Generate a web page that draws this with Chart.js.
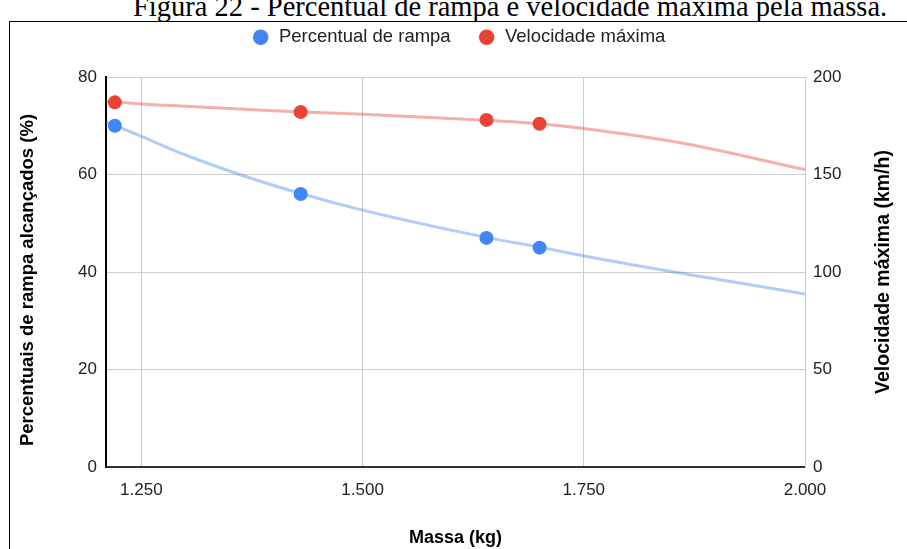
<!DOCTYPE html>
<html>
<head>
<meta charset="utf-8">
<script src="https://cdn.jsdelivr.net/npm/chart.js@4/dist/chart.umd.min.js"></script>
<style>
  html, body { margin: 0; padding: 0; background: #fff; width: 907px; height: 549px; overflow: hidden; position: relative; }
  #title { position: absolute; left: 133px; top: -8px; line-height: 30px; text-align: left;
           font-family: 'Liberation Serif', 'Times New Roman', serif; font-size: 28.5px; color: #000; white-space: nowrap; }
  #frame { position: absolute; left: 9px; top: 21px; width: 1000px; height: 600px; border: 1px solid #000; box-sizing: border-box; }
  #wrap { position: absolute; left: 10px; top: 1px; width: 897px; height: 548px; }
</style>
</head>
<body>
<div id="title">Figura 22 - Percentual de rampa e velocidade máxima pela massa.</div>
<div id="frame"></div>
<div id="wrap"><canvas id="c"></canvas></div>
<script>
// ---- data ----
const massa = [1220, 1430, 1640, 1700];               // kg
const percentualRampa = [70, 56, 47, 45];             // %
const velocidadeMaxima = [187, 182, 178, 176];        // km/h
// trendline samples
const trendMassa = [1210, 1250, 1300, 1361, 1430, 1500, 1640, 1700, 1750, 1865, 2000];
const trendRampa = [70.8, 67.8, 64.0, 60.0, 56.1, 52.7, 47.1, 45.1, 43.3, 39.6, 35.5];
const trendVelocidade = [187.7, 186.2, 185.0, 183.6, 182.1, 180.9, 177.8, 176.0, 173.6, 165.8, 152.5];
const xTicks = [1250, 1500, 1750, 2000];
const seriesNames = ['Percentual de rampa', 'Velocidade máxima'];
const xTitle = 'Massa (kg)';
const yTitle = 'Percentuais de rampa alcançados (%)';
const y1Title = 'Velocidade máxima (km/h)';

const BLUE = '#4285F4', RED = '#EA4335';
const FONT = "'Liberation Sans', Arial, sans-serif";
const fmt = v => String(v).replace(/\B(?=(\d{3})+(?!\d))/g, '.');
const pts = (xs, ys) => xs.map((x, i) => ({x: x, y: ys[i]}));

const sideTitles = {
  id: 'sideTitles',
  afterDraw(chart) {
    const ctx = chart.ctx, a = chart.chartArea, mid = (a.top + a.bottom) / 2;
    const draw = (text, x, y, size) => {
      ctx.save();
      ctx.translate(x, y);
      ctx.rotate(-Math.PI / 2);
      ctx.font = "bold " + size + "px " + FONT;
      ctx.fillStyle = '#000';
      ctx.textAlign = 'center';
      ctx.textBaseline = 'middle';
      ctx.fillText(text, 0, 0);
      ctx.restore();
    };
    draw(yTitle, 18, mid + 8, 18.5);
    draw(y1Title, chart.width - 23, mid, 19.5);
  }
};
const legendHeight = {
  id: 'legendHeight',
  beforeInit(chart) {
    const orig = chart.legend.fit;
    chart.legend.fit = function () { orig.bind(chart.legend)(); this.height = 76; };
  }
};

new Chart(document.getElementById('c'), {
  type: 'scatter',
  data: {
    datasets: [
      { label: seriesNames[0], data: pts(massa, percentualRampa), yAxisID: 'y',
        backgroundColor: BLUE, borderColor: BLUE, pointRadius: 7, pointBorderWidth: 0, showLine: false, order: 0 },
      { label: seriesNames[1], data: pts(massa, velocidadeMaxima), yAxisID: 'y1',
        backgroundColor: RED, borderColor: RED, pointRadius: 7, pointBorderWidth: 0, showLine: false, order: 0 },
      { label: 'trend1', type: 'line', data: pts(trendMassa, trendRampa), yAxisID: 'y',
        borderColor: 'rgba(66,133,244,0.42)', borderWidth: 3, pointRadius: 0, cubicInterpolationMode: 'monotone', fill: false, order: 1 },
      { label: 'trend2', type: 'line', data: pts(trendMassa, trendVelocidade), yAxisID: 'y1',
        borderColor: 'rgba(234,67,53,0.42)', borderWidth: 3, pointRadius: 0, cubicInterpolationMode: 'monotone', fill: false, order: 1 }
    ]
  },
  options: {
    responsive: true, maintainAspectRatio: false, animation: false, devicePixelRatio: 1,
    layout: { padding: 0 },
    plugins: {
      tooltip: { enabled: false },
      legend: {
        position: 'top', align: 'center',
        labels: {
          filter: item => item.datasetIndex < 2,
          usePointStyle: true, pointStyle: 'circle', boxWidth: 18, boxHeight: 11, padding: 27,
          color: '#222', font: { family: FONT, size: 18.5 }
        }
      }
    },
    scales: {
      x: {
        type: 'linear', min: 1210, max: 2000,
        afterBuildTicks: s => { s.ticks = xTicks.map(v => ({value: v})); },
        afterFit: s => { s.height = 82; },
        grid: { color: '#cccccc', drawTicks: false, lineWidth: 1 },
        border: { color: '#333333', width: 2 },
        ticks: { padding: 13, color: '#222', font: { family: FONT, size: 17 }, callback: v => fmt(v), maxRotation: 0 },
        title: { display: true, text: xTitle, color: '#000', font: { family: FONT, size: 18, weight: 'bold' }, padding: { top: 0, bottom: 0 } }
      },
      y: {
        position: 'left', min: 0, max: 80,
        afterFit: s => { s.width = 96; },
        grid: { color: '#cccccc', drawTicks: false },
        border: { color: '#000', width: 2 },
        ticks: { stepSize: 20, padding: 9, color: '#222', font: { family: FONT, size: 17 } }
      },
      y1: {
        position: 'right', min: 0, max: 200,
        afterFit: s => { s.width = 102; },
        grid: { drawOnChartArea: false, drawTicks: false },
        border: { color: '#cccccc', width: 1 },
        ticks: { stepSize: 50, padding: 8, color: '#222', font: { family: FONT, size: 17 } }
      }
    }
  },
  plugins: [legendHeight, sideTitles]
});
</script>
</body>
</html>
